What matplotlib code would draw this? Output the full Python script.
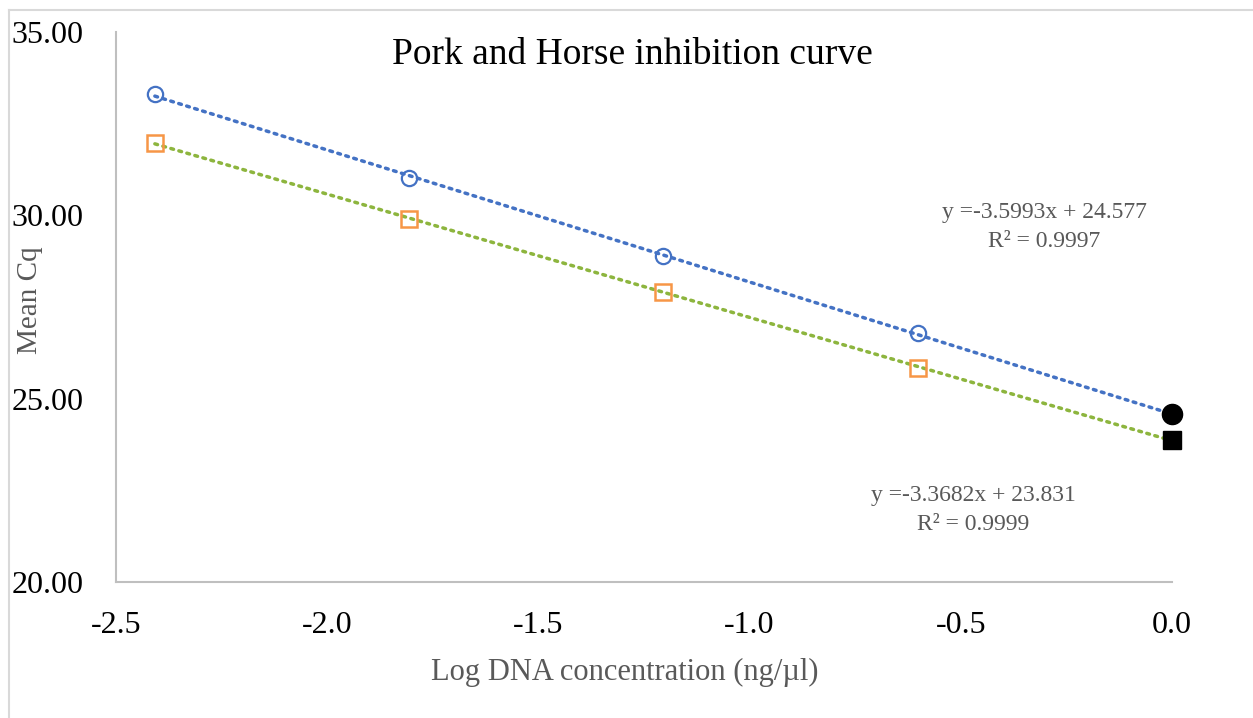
import numpy as np
import matplotlib
matplotlib.use('Agg')
import matplotlib.pyplot as plt
from matplotlib.lines import Line2D

plt.rcParams['font.family'] = ['Liberation Serif', 'DejaVu Serif']

# log DNA concentration (ng/ul)
log_conc = [-2.408, -1.806, -1.204, -0.602]
# mean Cq values
pork_cq = [33.30, 31.02, 28.90, 26.78]
horse_cq = [31.97, 29.90, 27.92, 25.84]
# undiluted point (0.0)
pork_zero = 24.58
horse_zero = 23.88

x_ticks = [-2.5, -2.0, -1.5, -1.0, -0.5, 0.0]
y_ticks = [20, 25, 30, 35]

fig = plt.figure(figsize=(12.53, 7.18), dpi=100)
ax = fig.add_axes([116 / 1253, 1 - 582 / 718, (1172 - 116) / 1253, (582 - 32) / 718])

# outer chart frame (only top and left visible)
fig.add_artist(Line2D([9 / 1253, 9 / 1253], [0, 1 - 10 / 718], color='#d9d9d9', lw=1.5,
                      transform=fig.transFigure))
fig.add_artist(Line2D([9 / 1253, 1], [1 - 10 / 718, 1 - 10 / 718], color='#d9d9d9', lw=1.5,
                      transform=fig.transFigure))

# trendlines
xa = np.array(log_conc + [0.0])
pa = np.array(pork_cq + [pork_zero])
ha = np.array(horse_cq + [horse_zero])
kp = np.polyfit(xa, pa, 1)
kh = np.polyfit(xa, ha, 1)
xl = np.linspace(xa.min(), 0, 50)
ax.plot(xl, np.polyval(kp, xl), ls=(0, (0.8, 1.6)), color='#4472c4', lw=2.5, dash_capstyle='round', zorder=2)
ax.plot(xl, np.polyval(kh, xl), ls=(0, (0.8, 1.6)), color='#8db53e', lw=2.5, dash_capstyle='round', zorder=2)

ax.plot(log_conc, pork_cq, 'o', ms=11, mfc='none', mec='#4472c4', mew=1.6, zorder=3)
ax.plot(log_conc, horse_cq, 's', ms=11, mfc='none', mec='#f79646', mew=1.8, zorder=3)
ax.plot([0.0], [pork_zero], 'o', ms=14.5, color='black', zorder=4, clip_on=False)
ax.plot([0.0], [horse_zero], 's', ms=13.5, color='black', zorder=4, clip_on=False)

ax.set_xlim(-2.5, 0.0)
ax.set_ylim(20, 35)
ax.set_xticks(x_ticks)
ax.set_xticklabels(['%.1f' % v for v in x_ticks], fontsize=23)
ax.set_yticks(y_ticks)
ax.set_yticklabels(['%.2f' % v for v in y_ticks], fontsize=23, ha='left')
ax.tick_params(axis='y', length=0, pad=75)
ax.tick_params(axis='x', length=0, pad=21)

for s in ['top', 'right']:
    ax.spines[s].set_visible(False)
for s in ['left', 'bottom']:
    ax.spines[s].set_color('#bfbfbf')
    ax.spines[s].set_linewidth(1.5)

fig.text(625 / 1253, 1 - 672 / 718, 'Log DNA concentration (ng/µl)', fontsize=22, color='#595959',
         ha='center', va='center')
fig.text(30 / 1253, 1 - 300 / 718, 'Mean Cq', rotation=90, fontsize=21, color='#595959',
         ha='center', va='center')
fig.text(632 / 1253, 1 - 55 / 718, 'Pork and Horse inhibition curve', fontsize=27,
         ha='center', va='center')

fig.text(1044 / 1253, 1 - 227 / 718, 'y =-3.5993x + 24.577\nR² = 0.9997', fontsize=17,
         color='#595959', ha='center', va='center', linespacing=1.45)
fig.text(973 / 1253, 1 - 510 / 718, 'y =-3.3682x + 23.831\nR² = 0.9999', fontsize=17,
         color='#595959', ha='center', va='center', linespacing=1.45)

fig.savefig('out.png', dpi=100)
